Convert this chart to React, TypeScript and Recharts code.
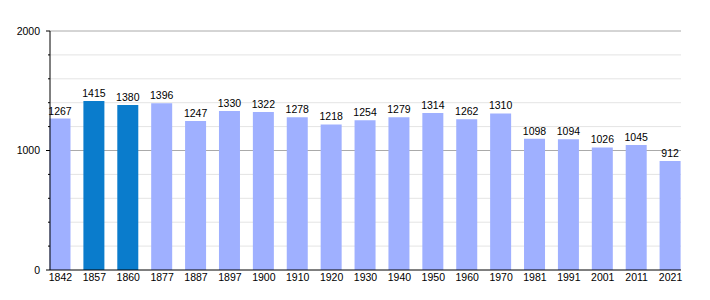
import { BarChart, Bar, XAxis, YAxis, CartesianGrid, LabelList, Cell } from "recharts";

const years = ["1842", "1857", "1860", "1877", "1887", "1897", "1900", "1910", "1920", "1930", "1940", "1950", "1960", "1970", "1981", "1991", "2001", "2011", "2021"];
const population = [1267, 1415, 1380, 1396, 1247, 1330, 1322, 1278, 1218, 1254, 1279, 1314, 1262, 1310, 1098, 1094, 1026, 1045, 912];
const highlighted = ["1857", "1860"];
const yTicks = [0, 200, 400, 600, 800, 1000, 1200, 1400, 1600, 1800, 2000];
const majorTicks = [0, 1000, 2000];
const minorTicks = [200, 400, 600, 800, 1200, 1400, 1600, 1800];

const FONT = "'Liberation Sans', Arial, sans-serif";

const data = years.map((y, i) => ({ year: y, pop: population[i] }));

function YTick(props: any) {
  const { x, y, payload } = props;
  const major = majorTicks.includes(payload.value);
  return (
    <g>
      <line x1={x - (major ? 4 : 2)} y1={y} x2={x} y2={y} stroke="#000" />
      {major && (
        <text x={x - 10} y={y} dy="0.35em" textAnchor="end" fontSize={10.5} fontFamily={FONT} fill="#000">
          {payload.value}
        </text>
      )}
    </g>
  );
}

export default function App() {
  return (
    <div style={{ position: "absolute", left: 0, top: 0, background: "#fff" }}>
      <BarChart width={710} height={300} data={data} margin={{ top: 31, right: 29, bottom: 0, left: 0 }}>
        <CartesianGrid vertical={false} horizontalValues={minorTicks} stroke="#e4e4e4" />
        <CartesianGrid vertical={false} horizontalValues={[1000, 2000]} stroke="#aaaaaa" />
        <XAxis
          dataKey="year"
          interval={0}
          padding={{ left: -6.5, right: -6.5 }}
          tickLine={false}
          tickSize={0}
          tickMargin={4}
          height={30}
          axisLine={{ stroke: "#000" }}
          tick={{ fontSize: 10.5, fontFamily: FONT, fill: "#000" }}
        />
        <YAxis
          domain={[0, 2000]}
          ticks={yTicks}
          interval={0}
          width={50}
          tickLine={false}
          tickSize={0}
          tickMargin={0}
          axisLine={{ stroke: "#000" }}
          tick={<YTick />}
        />
        <Bar dataKey="pop" barSize={21} isAnimationActive={false}>
          {data.map((d) => (
            <Cell key={d.year} fill={highlighted.includes(d.year) ? "#0a7ccc" : "#9fb0ff"} />
          ))}
          <LabelList dataKey="pop" position="top" offset={4} fontSize={10.5} fontFamily={FONT} fill="#000" />
        </Bar>
      </BarChart>
    </div>
  );
}
